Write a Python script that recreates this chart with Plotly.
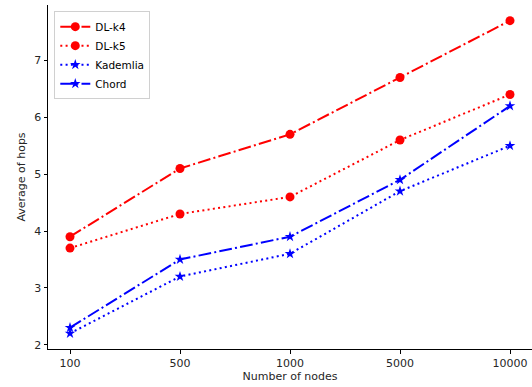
import plotly.graph_objects as go

nodes = ["100", "500", "1000", "5000", "10000"]
dl_k4 = [3.9, 5.1, 5.7, 6.7, 7.7]
dl_k5 = [3.7, 4.3, 4.6, 5.6, 6.4]
kademlia = [2.2, 3.2, 3.6, 4.7, 5.5]
chord = [2.3, 3.5, 3.9, 4.9, 6.2]

x_idx = list(range(len(nodes)))

series = [
    ("DL-k4", dl_k4, "red", "12.8px,3.2px,2px,3.2px", "circle", 9),
    ("DL-k5", dl_k5, "red", "2px,3.3px", "circle", 9),
    ("Kademlia", kademlia, "blue", "2px,3.3px", "star", 8),
    ("Chord", chord, "blue", "12.8px,3.2px,2px,3.2px", "star", 8),
]

fig = go.Figure()
for name, vals, col, dash, sym, ms in series:
    fig.add_trace(go.Scatter(
        x=x_idx, y=vals, name=name, mode="lines+markers",
        line=dict(color=col, width=2, dash=dash),
        marker=dict(color=col, symbol=sym, size=ms, line=dict(width=0)),
    ))

fig.update_layout(
    width=532, height=387,
    margin=dict(l=48, r=0, t=4.6, b=38),
    paper_bgcolor="white", plot_bgcolor="white",
    font=dict(family="DejaVu Sans", size=11, color="#262626"),
    showlegend=True,
    legend=dict(x=0.013, y=0.982, xanchor="left", yanchor="top",
                bordercolor="#d0d0d0", borderwidth=1, bgcolor="rgba(255,255,255,0.8)",
                font=dict(size=10.5, color="black"), tracegroupgap=0, itemwidth=30),
)
fig.update_xaxes(
    range=[-0.2, 4.2], tickmode="array", tickvals=x_idx, ticktext=nodes,
    showgrid=False, zeroline=False, showline=True, linecolor="black", linewidth=1,
    ticks="outside", ticklen=3.5, tickcolor="black", automargin=False,
    title=dict(text="Number of nodes", standoff=3, font=dict(size=11)),
)
fig.update_yaxes(
    range=[1.925, 7.975], tickvals=[2, 3, 4, 5, 6, 7],
    showgrid=False, zeroline=False, showline=True, linecolor="black", linewidth=1,
    ticks="outside", ticklen=3.5, tickcolor="black", automargin=False,
    title=dict(text="Average of hops", standoff=6, font=dict(size=11)),
)

fig.write_html("out.html", config={"displayModeBar": False},
               post_script="document.body.style.margin='0';document.body.style.overflow='hidden';")
